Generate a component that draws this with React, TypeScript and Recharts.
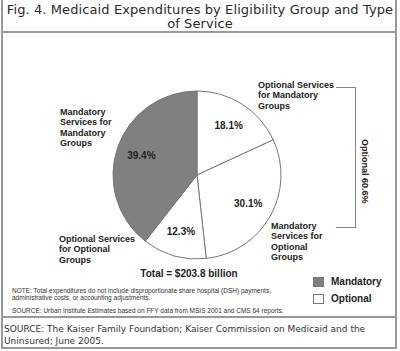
import { PieChart, Pie, Cell } from 'recharts'

const SLICES = [
  'Optional Services for Mandatory Groups',
  'Mandatory Services for Optional Groups',
  'Optional Services for Optional Groups',
  'Mandatory Services for Mandatory Groups',
]
const SHARES = [18.1, 30.1, 12.3, 39.4]
const KINDS = ['Optional', 'Optional', 'Optional', 'Mandatory']
const KIND_COLORS: Record<string, string> = { Mandatory: '#808080', Optional: '#ffffff' }

const data = SLICES.map((name, i) => ({ name, value: SHARES[i], kind: KINDS[i] }))

const TITLE = 'Fig. 4. Medicaid Expenditures by Eligibility Group and Type of Service'
const TOTAL = 'Total = $203.8 billion'
const OPTIONAL_SUM = 'Optional 60.6%'
const NOTE = [
  'NOTE: Total expenditures do not include disproportionate share hospital (DSH) payments,',
  'administrative costs, or accounting adjustments.',
]
const SOURCE_INNER = 'SOURCE: Urban Institute Estimates based on FFY data from MSIS 2001 and CMS 64 reports.'
const SOURCE = 'SOURCE: The Kaiser Family Foundation; Kaiser Commission on Medicaid and the Uninsured; June 2005.'

const RAD = Math.PI / 180
const arial = '"Liberation Sans", Arial, sans-serif'
const verdana = '"DejaVu Sans", Verdana, sans-serif'

function renderLabel(props: any) {
  const { cx, cy, midAngle, outerRadius, value } = props
  const r = outerRadius * 0.7
  const x = cx + r * Math.cos(-midAngle * RAD)
  const y = cy + r * Math.sin(-midAngle * RAD)
  return (
    <text x={x} y={y} textAnchor="middle" dominantBaseline="central"
      fontFamily={arial} fontWeight="bold" fontSize={10} fill="#222">
      {`${value}%`}
    </text>
  )
}

function Label({ lines, left, top, w = 110 }: { lines: string[]; left: number; top: number; w?: number }) {
  return (
    <div style={{ position: 'absolute', left, top, width: w, fontFamily: arial, fontWeight: 'bold',
      fontSize: 9, lineHeight: '10.6px', color: '#222' }}>
      {lines.map((l, i) => <div key={i}>{l}</div>)}
    </div>
  )
}

export default function App() {
  return (
    <div style={{ position: 'absolute', left: 0, top: 0, width: 400, height: 351, background: '#fff', overflow: 'hidden' }}>
      {/* frame */}
      <div style={{ position: 'absolute', left: 1, top: 0, width: 396, height: 349, borderLeft: '2px solid #999', borderRight: '2px solid #999', borderBottom: '2px solid #999', boxSizing: 'border-box' }} />
      <div style={{ position: 'absolute', left: 1, top: 31, width: 396, height: 2, background: '#999' }} />
      <div style={{ position: 'absolute', left: 1, top: 316, width: 396, height: 2, background: '#999' }} />

      <div style={{ position: 'absolute', left: 4, top: 3, width: 392, textAlign: 'center', fontFamily: verdana,
        fontSize: 13, lineHeight: '14px', color: '#2a2a2a', letterSpacing: 0.1 }}>
        {TITLE}
      </div>

      <div style={{ position: 'absolute', left: 0, top: 0 }}>
        <PieChart width={400} height={351}>
          <Pie data={data} dataKey="value" nameKey="name" cx={192} cy={170} outerRadius={84}
            startAngle={90} endAngle={-270} stroke="#777" strokeWidth={1}
            label={renderLabel} labelLine={false} isAnimationActive={false}>
            {data.map((d, i) => <Cell key={`cell-${i}`} fill={KIND_COLORS[d.kind]} />)}
          </Pie>
        </PieChart>
      </div>

      <Label lines={['Mandatory', 'Services for', 'Mandatory', 'Groups']} left={60} top={106.7} />
      <Label lines={['Optional Services', 'for Mandatory', 'Groups']} left={258} top={79.7} />
      <Label lines={['Mandatory', 'Services for', 'Optional', 'Groups']} left={271} top={220.7} />
      <Label lines={['Optional Services', 'for Optional', 'Groups']} left={59} top={233.7} />

      {/* bracket */}
      <div style={{ position: 'absolute', left: 336, top: 87, width: 20, height: 141, borderTop: '1px solid #888', borderRight: '1px solid #888', borderBottom: '1px solid #888', boxSizing: 'border-box' }} />
      <div style={{ position: 'absolute', left: 359, top: 139, writingMode: 'vertical-rl', fontFamily: arial, fontWeight: 'bold', fontSize: 9, lineHeight: '12px', color: '#222' }}>
        {OPTIONAL_SUM}
      </div>

      <div style={{ position: 'absolute', left: 89, top: 268, width: 200, textAlign: 'center', fontFamily: arial, fontWeight: 'bold', fontSize: 10, lineHeight: '12px', color: '#222' }}>
        {TOTAL}
      </div>

      {/* legend */}
      {['Mandatory', 'Optional'].map((k, i) => (
        <div key={k}>
          <div style={{ position: 'absolute', left: 313, top: 277 + i * 17, width: 11, height: 10, background: KIND_COLORS[k], border: '1px solid #777', boxSizing: 'border-box' }} />
          <div style={{ position: 'absolute', left: 331, top: 276 + i * 17, fontFamily: arial, fontWeight: 'bold', fontSize: 10, lineHeight: '12px', color: '#222' }}>{k}</div>
        </div>
      ))}

      <div style={{ position: 'absolute', left: 12, top: 288, fontFamily: arial, fontSize: 6.5, lineHeight: '6.7px', color: '#333', whiteSpace: 'nowrap' }}>
        {NOTE.map((l, i) => <div key={i}>{l}</div>)}
      </div>
      <div style={{ position: 'absolute', left: 12, top: 306.5, fontFamily: arial, fontSize: 6.5, lineHeight: '7px', color: '#333', whiteSpace: 'nowrap' }}>
        {SOURCE_INNER}
      </div>

      <div style={{ position: 'absolute', left: 4, top: 323, width: 394, fontFamily: verdana, fontSize: 9, lineHeight: '12px', color: '#333' }}>
        {SOURCE}
      </div>
    </div>
  )
}
